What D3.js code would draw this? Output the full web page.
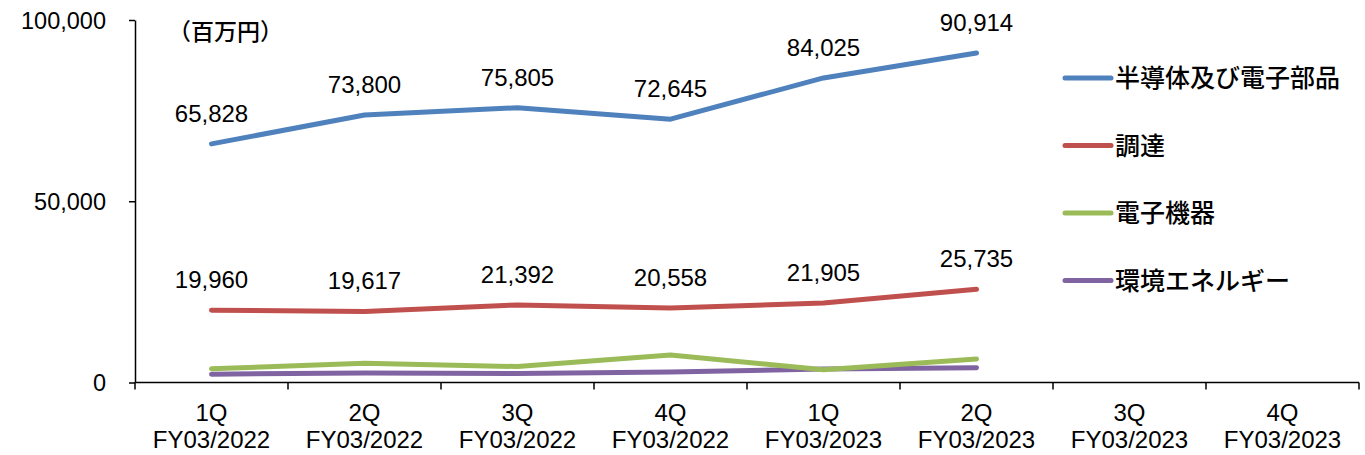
<!DOCTYPE html>
<html><head><meta charset="utf-8">
<script src="https://cdn.jsdelivr.net/npm/d3@7/dist/d3.min.js"></script>
<style>
html,body{margin:0;padding:0;background:#fff;}
svg{display:block;}
text{font-family:"Liberation Sans",Arial,sans-serif;fill:#000;}
.cjk{font-family:"Noto Sans CJK JP","Liberation Sans",sans-serif;}
</style></head>
<body>
<svg id="c" width="1365" height="455"></svg>
<script>
// ---- data ----
const quarters = ["1Q","2Q","3Q","4Q","1Q","2Q","3Q","4Q"];
const fiscalYears = ["FY03/2022","FY03/2022","FY03/2022","FY03/2022","FY03/2023","FY03/2023","FY03/2023","FY03/2023"];
const seriesNames = ["半導体及び電子部品","調達","電子機器","環境エネルギー"];
const semiconductors = [65828,73800,75805,72645,84025,90914];
const procurement = [19960,19617,21392,20558,21905,25735];
const electronics = [3800,5300,4400,7600,3500,6500];
const energy = [2300,2600,2500,2900,3700,4100];
const yTicks = [0,50000,100000];
const unitLabel = "（百万円）";

const colors = ["#4F81BD","#C0504D","#9BBB59","#8064A2"];
const seriesValues = [semiconductors, procurement, electronics, energy];
const labeled = [true, true, false, false];

const svg = d3.select("#c");
const cats = quarters.map((q,i)=>i);
const x = d3.scaleBand().domain(cats).range([135,1359]).padding(0);
const y = d3.scaleLinear().domain([0,100000]).range([382.5,20]);
const fmt = d3.format(",");

// y axis
const yAxis = d3.axisLeft(y).tickValues(yTicks).tickFormat(fmt).tickSize(6).tickSizeOuter(0);
const gy = svg.append("g").attr("transform","translate(135,0)").call(yAxis);
gy.select(".domain").attr("stroke","#000").attr("stroke-width",1.5);
gy.selectAll(".tick line").attr("stroke","#000").attr("stroke-width",1.5);
gy.selectAll(".tick text").attr("x",-29).attr("dy","0.35em")
  .style("font-size","23.5px").style("font-family","'Liberation Sans',Arial,sans-serif").attr("fill","#000");

// x axis
const gx = svg.append("g");
gx.append("line").attr("x1",135).attr("x2",1359).attr("y1",y(0)).attr("y2",y(0))
  .attr("stroke","#000").attr("stroke-width",1.5);
const edges = cats.map(c=>x(c)).concat([x(cats[cats.length-1])+x.bandwidth()]);
gx.selectAll("line.tk").data(edges).enter().append("line").attr("class","tk")
  .attr("x1",d=>d).attr("x2",d=>d).attr("y1",y(0)).attr("y2",y(0)+7)
  .attr("stroke","#000").attr("stroke-width",1.5);
const lab = gx.selectAll("text.xl").data(cats).enter().append("text").attr("class","xl")
  .attr("text-anchor","middle").style("font-size","24px");
lab.append("tspan").attr("x",c=>x(c)+x.bandwidth()/2).attr("y",421).text(c=>quarters[c]);
lab.append("tspan").attr("x",c=>x(c)+x.bandwidth()/2).attr("y",448).text(c=>fiscalYears[c]);

// unit label
svg.append("text").attr("class","cjk").attr("x",168).attr("y",40).style("font-size","23px")
  .style("font-weight","500").text(unitLabel);

// lines
const cx = i => x(i)+x.bandwidth()/2;
const line = d3.line().x((d,i)=>cx(i)).y(d=>y(d));
[3,2,1,0].forEach(s=>{
  svg.append("path").datum(seriesValues[s]).attr("d",line)
    .attr("fill","none").attr("stroke",colors[s]).attr("stroke-width",5)
    .attr("stroke-linecap","round").attr("stroke-linejoin","round");
});
// data labels
seriesValues.forEach((vals,s)=>{
  if(!labeled[s]) return;
  svg.selectAll(null).data(vals).enter().append("text")
    .attr("x",(d,i)=>cx(i)).attr("y",d=>y(d)-22)
    .attr("text-anchor","middle").style("font-size","24px").text(d=>fmt(d));
});

// legend
const lg = svg.append("g");
seriesNames.forEach((n,i)=>{
  const yy = 78 + i*67.5;
  lg.append("line").attr("x1",1065).attr("x2",1111).attr("y1",yy).attr("y2",yy)
    .attr("stroke",colors[i]).attr("stroke-width",5).attr("stroke-linecap","round");
  lg.append("text").attr("class","cjk").attr("x",1115).attr("y",yy).attr("dy","0.36em")
    .style("font-size","25px").style("font-weight","500").text(n);
});
</script>
</body></html>
